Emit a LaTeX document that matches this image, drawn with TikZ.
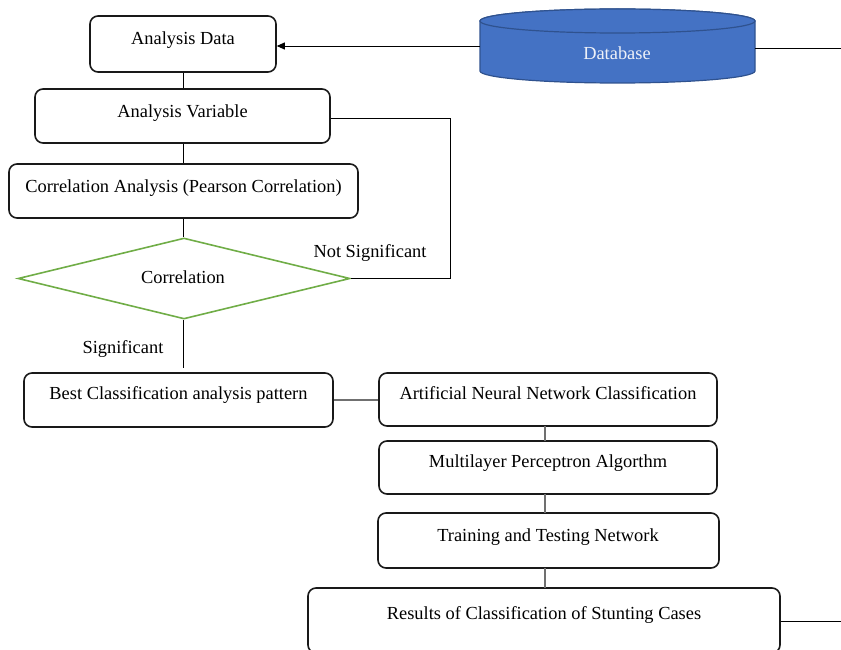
\documentclass[tikz,border=0pt]{standalone}
\usepackage{fontspec}
\setmainfont{Liberation Serif}
\usetikzlibrary{shapes.geometric,arrows.meta}
\definecolor{dbfill}{HTML}{4472C4}
\definecolor{dbline}{HTML}{2F528F}
\definecolor{dgreen}{HTML}{70AD47}
\definecolor{lgray}{HTML}{707070}
\definecolor{dbtext}{HTML}{EEF1F8}
\begin{document}
\begin{tikzpicture}[x=1pt,y=1pt,
  every node/.style={font=\fontsize{18.4}{22}\selectfont},
  procbox/.style={draw=black!90, line width=1.6pt, rounded corners=8pt, inner sep=0pt},
  lbl/.style={inner sep=0pt, anchor=center},
  conn/.style={draw=black, line width=0.9pt},
  gconn/.style={draw=lgray, line width=1.2pt}]
\useasboundingbox (0,0) rectangle (841,-650);
\clip (0,0) rectangle (841,-650);
% database cylinder
\draw[fill=dbfill, draw=dbline, line width=1.2pt]
  (480,-21) -- (480,-71) arc[start angle=180, end angle=360, x radius=137.5, y radius=12]
  -- (755,-21) arc[start angle=0, end angle=180, x radius=137.5, y radius=12] -- cycle;
\draw[fill=dbfill, draw=dbline, line width=1.2pt] (617.5,-21) ellipse[x radius=137.5, y radius=12];
\node[minimum width=275pt, minimum height=40pt, inner sep=0pt] (db) at (617.5,-47) {};
\node[lbl, text=dbtext] (dbt) at (617,-53) {Database};
% boxes
\node[procbox, minimum width=186pt, minimum height=56pt] (ad) at (183,-44) {};
\node[lbl] (adt) at (183,-40) {Analysis Data};
\node[procbox, minimum width=295pt, minimum height=54pt] (av) at (182.5,-116) {};
\node[lbl] (avt) at (182.5,-113) {Analysis Variable};
\node[procbox, minimum width=349pt, minimum height=54pt] (ca) at (183.5,-191) {};
\node[lbl] (cat) at (183.5,-188) {Correlation Analysis (Pearson Correlation)};
\node[diamond, draw=dgreen, line width=1.6pt, inner sep=0pt, minimum width=332pt, minimum height=81pt] (cor) at (184,-278.5) {};
\node[lbl] (cort) at (183,-277) {Correlation};
\node[lbl] (ns) at (370,-253) {Not Significant};
\node[lbl] (sg) at (123,-349) {Significant};
\node[procbox, minimum width=309pt, minimum height=54pt] (bc) at (178.5,-400) {};
\node[lbl] (bct) at (178.5,-395) {Best Classification analysis pattern};
\node[procbox, minimum width=338pt, minimum height=53pt] (ann) at (548,-399.5) {};
\node[lbl] (annt) at (548,-393) {Artificial Neural Network Classification};
\node[procbox, minimum width=338pt, minimum height=53pt] (mlp) at (548,-467.5) {};
\node[lbl] (mlpt) at (548,-463) {Multilayer Perceptron Algorthm};
\node[procbox, minimum width=341pt, minimum height=55pt] (tt) at (548.5,-540.5) {};
\node[lbl] (ttt) at (548,-537) {Training and Testing Network};
\node[procbox, minimum width=472pt, minimum height=65pt] (res) at (544,-620.5) {};
\node[lbl] (rest) at (544,-615) {Results of Classification of Stunting Cases};
% coordinates for free ends
\coordinate (dbout) at (841,-48);
\coordinate (resout) at (841,-621);
\coordinate (avr) at (450,-118);
% connectors
\draw[conn, -{Triangle[length=8pt,width=7pt]}] (db.west |- 0,-46) -- (ad.east |- 0,-46);
\draw[conn] (755,-48) -- (dbout);
\draw[conn] (ad.south) -- (ad.south |- av.north);
\draw[conn] (av.east |- avr) -- (avr) -- (avr |- cor.east) -- (cor.east);
\draw[conn] (av.south -| ad.south) -- (ad.south |- ca.north);
\draw[conn] (ca.south -| ad.south) -- (ad.south |- cor.north);
\draw[conn] (cor.south -| ad.south) -- (183,-368);
\draw[gconn] (bc.east) -- (bc.east -| ann.west);
\draw[gconn] (545,-426) -- (545,-441);
\draw[gconn] (545,-494) -- (545,-513);
\draw[gconn] (545,-568) -- (545,-588);
\draw[conn] (res.east |- resout) -- (resout);
\end{tikzpicture}
\end{document}
